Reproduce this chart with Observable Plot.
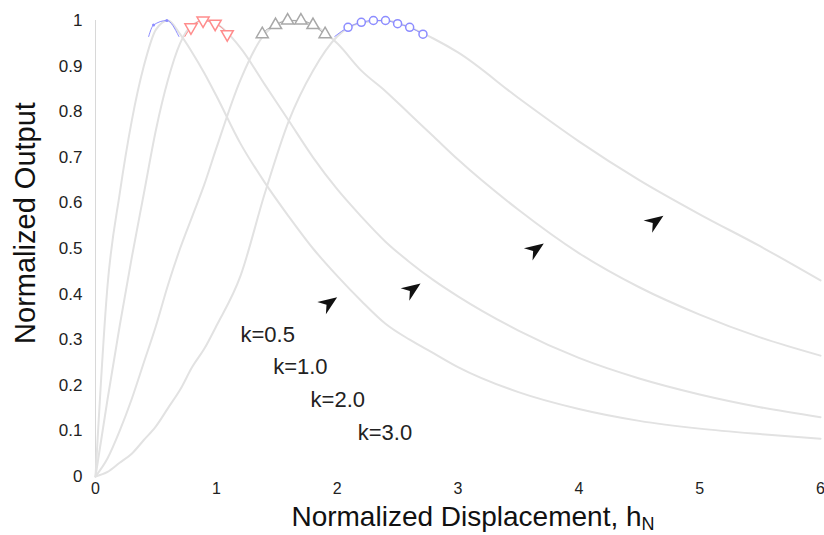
<!DOCTYPE html>
<html><head><meta charset="utf-8">
<script src="https://cdn.jsdelivr.net/npm/d3@7"></script>
<script src="https://cdn.jsdelivr.net/npm/@observablehq/plot@0.6"></script>
<style>
body{margin:0;background:#fff;}
#chart{width:824px;height:535px;}
</style></head><body><div id="chart"></div>
<script>
// Normalized displacement grid and normalized output for each k
const hGrid = [0,0.1,0.2,0.3,0.4,0.5,0.6,0.7,0.8,0.9,1.0,1.2,1.4,1.6,1.8,2.0,2.2,2.4,2.6,2.8,3.0,3.5,4.0,4.5,5.0,5.5,6.0];
const outK05 = [0,0.42,0.62,0.78,0.90,0.98,1.0,0.97,0.93,0.885,0.835,0.73,0.645,0.57,0.50,0.44,0.385,0.335,0.30,0.27,0.24,0.185,0.148,0.122,0.105,0.093,0.083];
const outK10 = [0,0.17,0.33,0.48,0.62,0.76,0.87,0.95,0.99,1.0,0.993,0.94,0.86,0.78,0.70,0.63,0.57,0.515,0.47,0.43,0.395,0.32,0.26,0.215,0.18,0.152,0.13];
const outK20 = [0,0.04,0.10,0.17,0.25,0.33,0.42,0.50,0.57,0.64,0.72,0.87,0.97,1.0,0.99,0.95,0.89,0.845,0.795,0.745,0.695,0.585,0.49,0.415,0.355,0.305,0.265];
const outK30 = [0,0.01,0.03,0.05,0.08,0.11,0.15,0.19,0.24,0.28,0.33,0.44,0.62,0.78,0.89,0.965,0.995,1.0,0.985,0.96,0.93,0.83,0.735,0.65,0.575,0.505,0.43];

// Coloured peak segments (visible top strip) and their markers
const peakLineH05 = [0.44,0.48,0.59,0.69];           const peakLineV05 = [0.965,0.99,1.0,0.965];
const markH05 = [0.48,0.59];                          const markV05 = [0.99,1.0];
const peakLineH10 = [0.74,0.79,0.89,0.99,1.09,1.10];  const peakLineV10 = [0.965,0.985,1.0,0.993,0.97,0.965];
const markH10 = [0.79,0.89,0.99,1.09];                const markV10 = [0.985,1.0,0.993,0.97];
const peakLineH20 = [1.37,1.38,1.49,1.59,1.70,1.80,1.90,1.93]; const peakLineV20 = [0.965,0.97,0.99,1.0,1.0,0.99,0.97,0.965];
const markH20 = [1.38,1.49,1.59,1.70,1.80,1.90];      const markV20 = [0.97,0.99,1.0,1.0,0.99,0.97];
const peakLineH30 = [1.98,2.09,2.20,2.30,2.40,2.50,2.60,2.71,2.74]; const peakLineV30 = [0.965,0.985,0.996,1.0,1.0,0.993,0.985,0.97,0.965];
const markH30 = [2.09,2.20,2.30,2.40,2.50,2.60,2.71];  const markV30 = [0.985,0.996,1.0,1.0,0.993,0.985,0.97];

// Annotation labels and arrows
const labelText = ["k=0.5","k=1.0","k=2.0","k=3.0"];
const labelH = [1.20,1.47,1.78,2.17];
const labelV = [0.31,0.24,0.167,0.096];
const arrowH = [2.0,2.69,3.71,4.70];
const arrowV = [0.393,0.423,0.511,0.572];

const xTicks = [0,1,2,3,4,5,6];
const yTicks = [0,0.1,0.2,0.3,0.4,0.5,0.6,0.7,0.8,0.9,1];

const curves = [outK05, outK10, outK20, outK30].map(vals => hGrid.map((h, i) => ({h, v: vals[i]})));
const zip = (H, V) => H.map((h, i) => ({h, v: V[i]}));
const labels = labelText.map((t, i) => ({t, h: labelH[i], v: labelV[i]}));
const arrows = arrowH.map((h, i) => ({h, v: arrowV[i]}));

const arrowHead = {
  draw(context, l) {
    const w = 7.5;
    context.moveTo(0, -l);
    context.lineTo(-w, 0);
    context.lineTo(0, -6);
    context.lineTo(w, 0);
    context.closePath();
  }
};

const blue = "#8c8cff", red = "#ff8c8c", gray = "#a8a8a8";

const chart = Plot.plot({
  width: 824, height: 535,
  marginLeft: 95, marginRight: 4, marginTop: 20, marginBottom: 59,
  x: {domain: [0, 6]},
  y: {domain: [0, 1]},
  style: {fontFamily: "'Liberation Sans', Arial, sans-serif", fontSize: "17px", background: "white", color: "#222"},
  marks: [
    Plot.ruleX([0], {stroke: "#d8d8d8"}),
    ...curves.map(c => Plot.line(c, {x: "h", y: "v", stroke: "#e2e2e2", strokeWidth: 2, curve: "monotone-x"})),
    Plot.line(zip(peakLineH05, peakLineV05), {x: "h", y: "v", stroke: blue, strokeWidth: 1, curve: "monotone-x"}),
    Plot.dot(zip(markH05, markV05), {x: "h", y: "v", r: 1.5, fill: blue}),
    Plot.line(zip(peakLineH10, peakLineV10), {x: "h", y: "v", stroke: red, strokeWidth: 1, curve: "monotone-x"}),
    Plot.dot(zip(markH10, markV10), {x: "h", y: "v", symbol: "triangle", rotate: 180, r: 4.5, stroke: red, fill: "white"}),
    Plot.line(zip(peakLineH20, peakLineV20), {x: "h", y: "v", stroke: gray, strokeWidth: 1, curve: "monotone-x"}),
    Plot.dot(zip(markH20, markV20), {x: "h", y: "v", symbol: "triangle", r: 4.5, stroke: gray, fill: "white"}),
    Plot.line(zip(peakLineH30, peakLineV30), {x: "h", y: "v", stroke: blue, strokeWidth: 1, curve: "monotone-x"}),
    Plot.dot(zip(markH30, markV30), {x: "h", y: "v", r: 4, stroke: blue, fill: "white"}),
    Plot.vector(arrows, {x: "h", y: "v", length: 19, rotate: 55, anchor: "end", shape: arrowHead, fill: "#111", stroke: "none"}),
    Plot.text(labels, {x: "h", y: "v", text: "t", textAnchor: "start", fontSize: 22, fill: "#222"}),
    Plot.axisX(xTicks, {tickSize: 0, tickPadding: 6, label: null, fontSize: 16, tickFormat: d3.format("~g")}),
    Plot.axisY(yTicks, {tickSize: 0, tickPadding: 13, label: null, fontSize: 17, tickFormat: d3.format("~g")})
  ]
});

const svg = d3.select(chart);
const xl = svg.append("text")
  .attr("x", 473).attr("y", 526)
  .attr("text-anchor", "middle").attr("font-size", 28).attr("fill", "#111");
xl.append("tspan").text("Normalized Displacement, h");
xl.append("tspan").attr("font-size", 18).attr("dy", 4).text("N");

svg.append("text")
  .attr("transform", "translate(35,223) rotate(-90)")
  .attr("text-anchor", "middle").attr("font-size", 29).attr("fill", "#111")
  .text("Normalized Output");

document.getElementById("chart").appendChild(chart);
</script>
</body></html>
